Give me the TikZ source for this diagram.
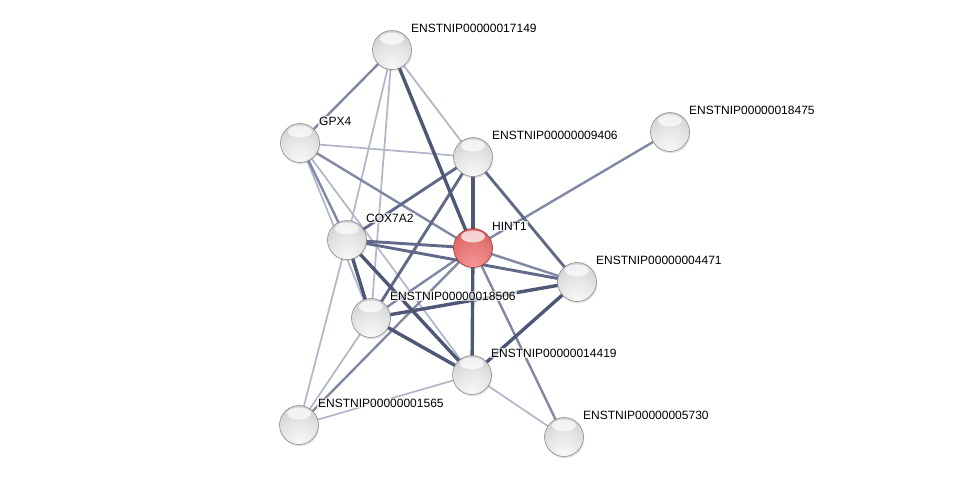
\documentclass[tikz,border=0pt]{standalone}
\usepackage{fontspec}
\setmainfont{Liberation Sans}
\usetikzlibrary{shadows}
\pgfdeclarelayer{background}
\pgfsetlayers{background,main}
\definecolor{eA}{RGB}{78,88,118}
\definecolor{eB}{RGB}{96,106,136}
\definecolor{eC}{RGB}{128,136,164}
\definecolor{eD}{RGB}{176,181,202}
\pgfdeclareradialshading{greysph}{\pgfpoint{0bp}{-22bp}}{color(0bp)=(white!97!black); color(22bp)=(white!90!black); color(45bp)=(white!78!black); color(62bp)=(white!66!black); color(72bp)=(white!50!black); color(100bp)=(white!50!black)}
\pgfdeclareradialshading{redsph}{\pgfpoint{0bp}{-22bp}}{color(0bp)=(rgb,255:red,244;green,150;blue,150); color(22bp)=(rgb,255:red,232;green,122;blue,122); color(45bp)=(rgb,255:red,212;green,90;blue,92); color(62bp)=(rgb,255:red,184;green,62;blue,64); color(72bp)=(rgb,255:red,140;green,36;blue,38); color(100bp)=(rgb,255:red,140;green,36;blue,38)}
\tikzset{
  hilite/.style={path picture={\fill[white, opacity=0.7] ([yshift=-8pt]path picture bounding box.north) ellipse (12pt and 6pt);}},
  ball/.style={circle, minimum size=39pt, inner sep=0pt, shading=greysph, draw=white!50!black, line width=0.5pt, hilite,
    drop shadow={opacity=0.22, shadow xshift=0.8pt, shadow yshift=-1.8pt}},
  redball/.style={ball, shading=redsph, draw={rgb,255:red,140;green,40;blue,40}},
  lab/.style={anchor=west, font=\fontsize{12}{14}\selectfont, inner sep=1pt, fill=white, fill opacity=0.7, text opacity=1},
  e1/.style={draw=eA, line width=3.4pt},
  e2/.style={draw=eB, line width=2.9pt},
  e3/.style={draw=eC, line width=2.4pt},
  e4/.style={draw=eD, line width=1.7pt},
}
\begin{document}
\begin{tikzpicture}[x=1pt,y=-1pt]
\useasboundingbox (0,0) rectangle (975,483);
% nodes
\node[ball] (A) at (392,50) {};
\node[ball] (G) at (300,143) {};
\node[ball] (N) at (473,157) {};
\node[ball] (R) at (670,132) {};
\node[ball] (C) at (347,240) {};
\node[redball] (H) at (473,248) {};
\node[ball] (F) at (577,282) {};
\node[ball] (S) at (371,318) {};
\node[ball] (T) at (472,375) {};
\node[ball] (O) at (299,425) {};
\node[ball] (V) at (564,437) {};
% edges
\begin{pgfonlayer}{background}
\draw[e4] (G.center) -- (N.center);
\draw[e4] (G.center) -- (S.center);
\draw[e4] (G.center) -- (T.center);
\draw[e4] (A.center) -- (N.center);
\draw[e4] (A.center) -- (C.center);
\draw[e4] (A.center) -- (S.center);
\draw[e4] (O.center) -- (C.center);
\draw[e4] (O.center) -- (S.center);
\draw[e4] (O.center) -- (T.center);
\draw[e4] (T.center) -- (V.center);
\draw[e3] (G.center) -- (A.center);
\draw[e3] (G.center) -- (C.center);
\draw[e3] (G.center) -- (H.center);
\draw[e3] (H.center) -- (R.center);
\draw[e3] (H.center) -- (V.center);
\draw[e3] (H.center) -- (O.center);
\draw[e3] (H.center) -- (S.center);
\draw[e3] (H.center) -- (F.center);
\draw[e2] (C.center) -- (F.center);
\draw[e2] (N.center) -- (C.center);
\draw[e2] (N.center) -- (S.center);
\draw[e2] (N.center) -- (F.center);
\draw[e2] (C.center) -- (H.center);
\draw[e1] (A.center) -- (H.center);
\draw[e1] (N.center) -- (H.center);
\draw[e1] (H.center) -- (T.center);
\draw[e1] (C.center) -- (S.center);
\draw[e1] (C.center) -- (T.center);
\draw[e1] (S.center) -- (T.center);
\draw[e1] (S.center) -- (F.center);
\draw[e1] (T.center) -- (F.center);
\end{pgfonlayer}
% labels
\node[lab] (lA) at (410,28) {ENSTNIP00000017149};
\node[lab] (lG) at (318,121) {GPX4};
\node[lab] (lN) at (491,135) {ENSTNIP00000009406};
\node[lab] (lR) at (688,110) {ENSTNIP00000018475};
\node[lab] (lC) at (365,218) {COX7A2};
\node[lab] (lH) at (491,226) {HINT1};
\node[lab] (lF) at (595,260) {ENSTNIP00000004471};
\node[lab] (lS) at (389,296) {ENSTNIP00000018506};
\node[lab] (lT) at (490,353) {ENSTNIP00000014419};
\node[lab] (lO) at (317,403) {ENSTNIP00000001565};
\node[lab] (lV) at (582,415) {ENSTNIP00000005730};
\end{tikzpicture}
\end{document}
